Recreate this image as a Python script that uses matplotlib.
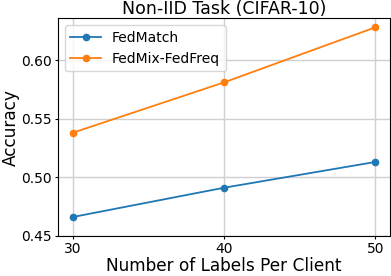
import matplotlib
matplotlib.use("Agg")
import matplotlib.pyplot as plt

labels_per_client = [30, 40, 50]
fedmatch = [0.466, 0.491, 0.513]
fedmix_fedfreq = [0.538, 0.581, 0.628]

fig, ax = plt.subplots(figsize=(3.91, 2.76), dpi=100)
fig.subplots_adjust(left=0.148, right=0.997, bottom=0.146, top=0.933)

ax.plot(labels_per_client, fedmatch, marker="o", markersize=4.5, linewidth=1.3, label="FedMatch")
ax.plot(labels_per_client, fedmix_fedfreq, marker="o", markersize=4.5, linewidth=1.3, label="FedMix-FedFreq")

ax.set_xlim(29.0, 50.95)
ax.set_ylim(0.45, 0.6355)
ax.set_xticks(labels_per_client)
ax.set_yticks([0.45, 0.50, 0.55, 0.60])
ax.grid(True, color="#d0d0d0", linewidth=1)
ax.tick_params(labelsize=10, length=2.5, pad=2)

ax.set_title("Non-IID Task (CIFAR-10)", fontsize=12.5, pad=2)
ax.set_xlabel("Number of Labels Per Client", fontsize=12.2, labelpad=1)
ax.set_ylabel("Accuracy", fontsize=12.2, labelpad=1)
ax.legend(loc="upper left", fontsize=10, handlelength=2.2)

plt.savefig("out.png", dpi=100)
